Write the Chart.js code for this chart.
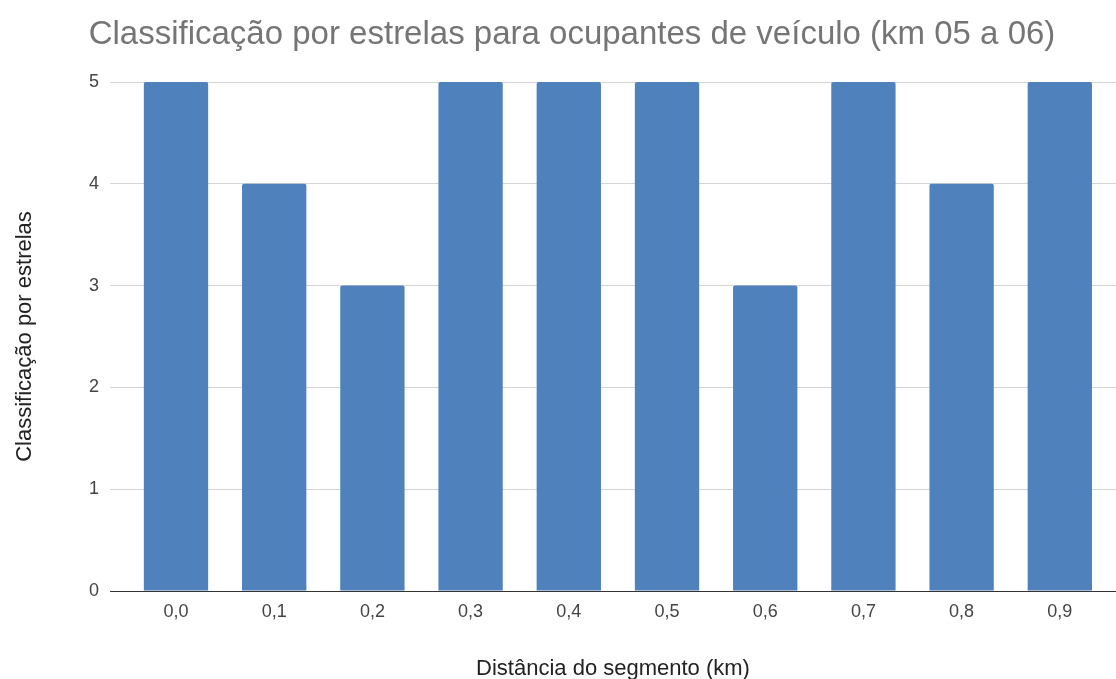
<!DOCTYPE html>
<html lang="pt">
<head>
<meta charset="utf-8">
<title>Classificação por estrelas</title>
<script src="https://cdn.jsdelivr.net/npm/chart.js@4/dist/chart.umd.min.js"></script>
<style>
  html, body { margin: 0; padding: 0; background: #ffffff; }
  canvas { display: block; }
</style>
</head>
<body>
<canvas id="chart" width="1116" height="679"></canvas>
<script>
// Segment start (km) and the star rating for vehicle occupants
const distances = [0.0, 0.1, 0.2, 0.3, 0.4, 0.5, 0.6, 0.7, 0.8, 0.9];
const distanceLabels = ['0,0', '0,1', '0,2', '0,3', '0,4', '0,5', '0,6', '0,7', '0,8', '0,9'];
const starRatings = [5, 4, 3, 5, 5, 5, 3, 5, 4, 5];
const ratingTicks = [0, 1, 2, 3, 4, 5];

const chartTitle = 'Classificação por estrelas para ocupantes de veículo (km 05 a 06)';
const xTitle = 'Distância do segmento (km)';
const yTitle = 'Classificação por estrelas';

const FONT = "'Liberation Sans', Arial, sans-serif";

// nudges the centred title block a little to the right
const titleShift = {
  id: 'titleShift',
  afterLayout(chart) {
    if (chart.titleBlock) {
      chart.titleBlock.left += 14;
      chart.titleBlock.right += 14;
    }
  }
};

new Chart(document.getElementById('chart'), {
  type: 'bar',
  data: {
    datasets: [{
      data: distances.map((d, i) => ({ x: d, y: starRatings[i] })),
      backgroundColor: '#4f81bd',
      borderWidth: 0,
      borderRadius: { topLeft: 2, topRight: 2, bottomLeft: 0, bottomRight: 0 },
      borderSkipped: 'start',
      categoryPercentage: 1,
      barPercentage: 0.655
    }]
  },
  options: {
    responsive: false,
    animation: false,
    devicePixelRatio: 1,
    layout: { padding: 0 },
    plugins: {
      legend: { display: false },
      tooltip: { enabled: false },
      title: {
        display: true,
        text: chartTitle,
        color: '#757575',
        font: { family: FONT, size: 33, weight: 'normal' },
        padding: { top: 15, bottom: 27.4 }
      }
    },
    scales: {
      x: {
        type: 'linear',
        offset: false,
        min: -0.0672,
        max: 0.9572,
        afterBuildTicks(axis) {
          axis.ticks = distances.map(v => ({ value: v }));
        },
        afterFit(axis) { axis.height = 88; },
        grid: { display: false, drawTicks: false, offset: false },
        border: { display: false },
        ticks: {
          padding: 10,
          color: '#444444',
          font: { family: FONT, size: 18 },
          autoSkip: false,
          maxRotation: 0,
          callback: (value, index) => distanceLabels[index]
        },
        title: {
          display: true,
          text: xTitle,
          color: '#222222',
          font: { family: FONT, size: 22 },
          padding: { top: 0, bottom: -3 }
        }
      },
      y: {
        min: 0,
        max: 5,
        afterBuildTicks(axis) {
          axis.ticks = ratingTicks.map(v => ({ value: v }));
        },
        afterFit(axis) { axis.width = 110; },
        grid: {
          drawTicks: false,
          color: ctx => (ctx.tick && ctx.tick.value === 0) ? '#333333' : '#d4d4d4',
          lineWidth: 1
        },
        border: { display: false },
        ticks: {
          padding: 11,
          color: '#444444',
          font: { family: FONT, size: 18 }
        },
        title: {
          display: true,
          text: yTitle,
          color: '#222222',
          font: { family: FONT, size: 22 },
          padding: { top: 11.8, bottom: 0 }
        }
      }
    }
  },
  plugins: [titleShift]
});
</script>
</body>
</html>
